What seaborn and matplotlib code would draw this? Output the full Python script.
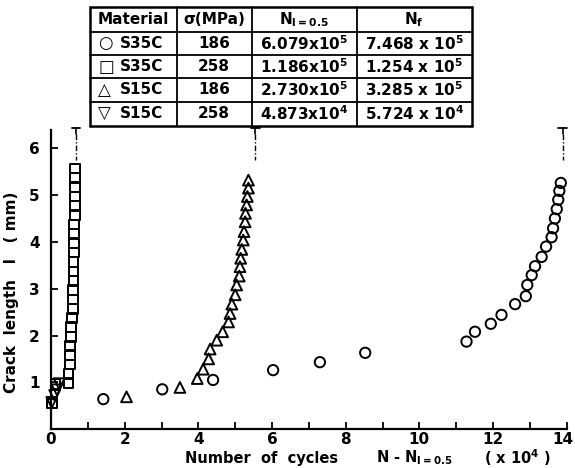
import numpy as np
import pandas as pd
import matplotlib
matplotlib.use("Agg")
import matplotlib.pyplot as plt
import seaborn as sns
from matplotlib.ticker import MultipleLocator, FixedLocator
from matplotlib.transforms import ScaledTranslation

# ---------------- data (x in units of 10^4 cycles, y crack length in mm) -------------
circle_x = [1.42, 3.02, 4.40, 6.03, 7.30, 8.53, 11.28, 11.51, 11.94, 12.23, 12.60, 12.89,
            12.93, 13.05, 13.14, 13.32, 13.44, 13.59, 13.63, 13.68, 13.73, 13.77, 13.80, 13.84]
circle_y = [0.64, 0.85, 1.05, 1.26, 1.43, 1.63, 1.87, 2.08, 2.25, 2.44, 2.67, 2.84,
            3.08, 3.29, 3.48, 3.68, 3.90, 4.10, 4.29, 4.50, 4.70, 4.90, 5.09, 5.26]

square_x = [0.02, 0.12, 0.47, 0.47, 0.52, 0.52, 0.52, 0.54, 0.54, 0.57, 0.59, 0.59, 0.59,
            0.61, 0.61, 0.61, 0.63, 0.63, 0.63, 0.63, 0.65, 0.65, 0.65, 0.65, 0.65, 0.65]
square_y = [0.55, 0.97, 0.98, 1.18, 1.38, 1.58, 1.78, 1.97, 2.18, 2.37, 2.57, 2.77, 2.97,
            3.17, 3.37, 3.57, 3.77, 3.97, 4.17, 4.37, 4.57, 4.77, 4.97, 5.17, 5.37, 5.57]

tri_up_x = [2.05, 3.50, 3.97, 4.13, 4.28, 4.32, 4.50, 4.66, 4.82, 4.86, 4.91, 5.00, 5.04,
            5.11, 5.13, 5.15, 5.18, 5.22, 5.24, 5.27, 5.28, 5.31, 5.33, 5.36, 5.36]
tri_up_y = [0.69, 0.89, 1.08, 1.28, 1.50, 1.71, 1.90, 2.08, 2.29, 2.47, 2.67, 2.87, 3.08,
            3.27, 3.47, 3.65, 3.84, 4.04, 4.22, 4.43, 4.61, 4.79, 4.97, 5.15, 5.32]

tri_down_x = [0.02, 0.10, 0.16, 0.22]
tri_down_y = [0.57, 0.72, 0.84, 0.97]

# table
materials = ["S35C", "S35C", "S15C", "S15C"]
symbols = ["\u25CB", "\u25A1", "\u25B3", "\u25BD"]
stress = [186, 258, 186, 258]
n_half_mant = [6.079, 1.186, 2.730, 4.873]
n_half_exp = [5, 5, 5, 4]
n_f_mant = [7.468, 1.254, 3.285, 5.724]
n_f_exp = [5, 5, 5, 4]
failure_marked = [True, True, True, False]

x_ticks_labels = [0, 2, 4, 6, 8, 10, 12, 14]
y_ticks = [1, 2, 3, 4, 5, 6]

# ---------------- style -------------
sns.set_theme(style="ticks")
plt.rcParams["font.family"] = ["DejaVu Sans"]
plt.rcParams["font.weight"] = "bold"
plt.rcParams["text.color"] = "black"
plt.rcParams["axes.labelcolor"] = "black"
plt.rcParams["xtick.color"] = "black"
plt.rcParams["ytick.color"] = "black"
plt.rcParams["mathtext.fontset"] = "custom"
plt.rcParams["mathtext.rm"] = "DejaVu Sans:bold"
plt.rcParams["mathtext.it"] = "DejaVu Sans:bold"
plt.rcParams["mathtext.bf"] = "DejaVu Sans:bold"
plt.rcParams["mathtext.default"] = "rm"

W, H = 575, 468
fig = plt.figure(figsize=(W / 100, H / 100), dpi=100)
fig.patch.set_facecolor("white")

x0, x1 = 51, 566.7
yb, yt = 429.1, 124.9
ax = fig.add_axes([x0 / W, (H - yb) / H, (x1 - x0) / W, (yb - yt) / H])
ax.set_facecolor("white")

common = dict(facecolor="none", edgecolor="black", linewidth=1.4, ax=ax,
              clip_on=False, zorder=3, legend=False)
sns.scatterplot(x=circle_x, y=circle_y, marker="o", s=55, **common)
sns.scatterplot(x=square_x, y=square_y, marker="s", s=48, **common)
sns.scatterplot(x=tri_up_x, y=tri_up_y, marker="^", s=60, **common)
sns.scatterplot(x=tri_down_x, y=tri_down_y, marker="v", s=60, **common)

# failure marks (N_f - N_{l=0.5}) in 10^4 cycles
for m_h, e_h, m_f, e_f, mark in zip(n_half_mant, n_half_exp, n_f_mant, n_f_exp, failure_marked):
    if not mark:
        continue
    xf = (m_f * 10 ** e_f - m_h * 10 ** e_h) / 1e4
    ax.plot([xf, xf], [6.43, 6.30], color="black", lw=1.2, clip_on=False)
    ax.plot([xf, xf], [6.30, 5.75], color="black", lw=1.0, ls=(0, (4, 1.5, 1, 1.5)),
            clip_on=False)
    ax.plot([xf - 0.12, xf + 0.12], [6.43, 6.43], color="black", lw=1.3, clip_on=False)

ax.set_xlim(0, 14)
ax.set_ylim(0, 6.5)
sns.despine(ax=ax)
ax.spines["left"].set_linewidth(1.6)
ax.spines["bottom"].set_linewidth(1.6)
ax.spines["left"].set_bounds(0, 6.4)
ax.spines["left"].set_color("black")
ax.spines["bottom"].set_color("black")

ax.xaxis.set_major_locator(FixedLocator(x_ticks_labels))
ax.xaxis.set_minor_locator(MultipleLocator(1))
ax.set_xticklabels([str(v) for v in x_ticks_labels])
ax.yaxis.set_major_locator(FixedLocator(y_ticks))
ax.set_yticklabels([str(v) for v in y_ticks])
ax.tick_params(axis="both", which="both", direction="in", length=5, width=1.3,
               color="black", labelsize=11, labelcolor="black")
ax.tick_params(axis="x", which="major", pad=2)
ax.tick_params(axis="y", which="major", pad=8)
ax.tick_params(axis="y", which="minor", left=False)
# nudge the last x tick label so it stays inside the figure
last = ax.get_xticklabels()[-1]
last.set_transform(last.get_transform() + ScaledTranslation(-4 / 100, 0, fig.dpi_scale_trans))

ax.set_xlabel("")
ax.set_ylabel("Crack  length   l   ( mm)", fontsize=11, fontweight="bold", color="black")
ax.yaxis.set_label_coords(-0.062, 0.45)

# x-axis label pieces
ly = 1 - 458 / H
fig.text(185 / W, ly, "Number  of  cycles", fontsize=10.5, fontweight="bold",
         ha="left", va="center")
fig.text(376 / W, ly, "N - N$_{l=0.5}$", fontsize=10.5, fontweight="bold",
         ha="left", va="center")
fig.text(484 / W, ly, "( x 10$^4$ )", fontsize=10.5, fontweight="bold",
         ha="left", va="center")

# ---------------- table -------------
tl, tr, ttop, tbot = 90, 471.7, 7.3, 126
tax = fig.add_axes([tl / W, (H - tbot) / H, (tr - tl) / W, (tbot - ttop) / H])
tax.set_xlim(tl, tr)
tax.set_ylim(tbot, ttop)
tax.axis("off")
col_edges = [tl, 176.7, 251.7, 356.7, tr]
row_edges = [ttop, 31.7, 55, 78.3, 101.7, tbot]
for i, xe in enumerate(col_edges):
    tax.plot([xe, xe], [ttop, tbot], color="black",
             lw=1.8 if i in (0, len(col_edges) - 1) else 1.3, clip_on=False)
for j, ye in enumerate(row_edges):
    tax.plot([tl, tr], [ye, ye], color="black",
             lw=1.8 if j in (0, len(row_edges) - 1) else 1.3, clip_on=False)

col_c = [(col_edges[i] + col_edges[i + 1]) / 2 for i in range(4)]
row_c = [(row_edges[i] + row_edges[i + 1]) / 2 for i in range(5)]
headers = ["Material", "\u03C3(MPa)", "N$_{l=0.5}$", "N$_f$"]
for c, h in zip(col_c, headers):
    tax.text(c, row_c[0], h, ha="center", va="center", fontsize=11, fontweight="bold")
for r in range(4):
    y = row_c[r + 1]
    tax.text(col_edges[0] + 8, y, symbols[r], ha="left", va="center", fontsize=12,
             fontweight="bold")
    tax.text(col_edges[0] + 30, y, materials[r], ha="left", va="center", fontsize=11,
             fontweight="bold")
    tax.text(col_c[1], y, str(stress[r]), ha="center", va="center", fontsize=11,
             fontweight="bold")
    tax.text(col_c[2], y, f"{n_half_mant[r]:.3f}x10$^{n_half_exp[r]}$", ha="center",
             va="center", fontsize=11, fontweight="bold")
    tax.text(col_c[3], y, f"{n_f_mant[r]:.3f} x 10$^{n_f_exp[r]}$", ha="center",
             va="center", fontsize=11, fontweight="bold")

fig.savefig("out.png", dpi=100, facecolor="white")
